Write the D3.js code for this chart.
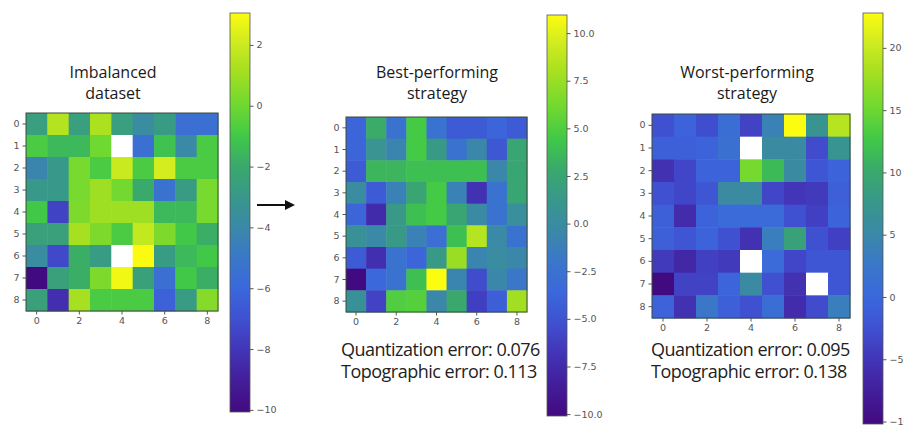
<!DOCTYPE html>
<html lang="en">
<head>
<meta charset="utf-8">
<title>SOM heatmaps</title>
<script src="https://d3js.org/d3.v7.min.js"></script>
<style>
body { margin:0; background:#fff; }
svg { display:block; }
.tick text { font-family:"DejaVu Sans", sans-serif; font-size:9.5px; fill:#555; }
.tick line { stroke:#555; }
.title { font-family:"Open Sans", sans-serif; font-size:16px; fill:#1a1a1a; }
.err { font-family:"Open Sans", sans-serif; font-size:18px; letter-spacing:-0.5px; fill:#222; }
</style>
</head>
<body>
<script>

// cell values (null = empty / white cell)
var imbalanced = [
  [-2.6, 1.5, -2.6, 1.3, -2.6, -3.8, -2.8, -5.5, -5.5],
  [-0.8, -1.5, -1.5, 0.0, null, -5.5, -1.2, -4.0, -0.8],
  [-4.2, -3.0, 0.2, -0.8, 2.0, -0.8, 2.2, -0.8, -0.8],
  [-3.0, -3.0, 0.2, 1.0, 0.1, -2.0, -5.3, -2.8, 0.2],
  [-1.0, -7.5, 0.3, 1.0, 1.0, 1.0, -1.5, -1.5, 0.2],
  [-2.5, -2.5, 1.2, 0.3, -0.8, 1.8, 0.3, -1.0, -1.8],
  [-3.8, -7.3, -1.8, -2.8, null, 3.0, -2.8, -1.5, -1.0],
  [-10.07, -2.5, -1.8, 0.3, 2.8, -2.5, -5.5, -1.0, -1.8],
  [-2.5, -8.3, 1.2, -0.8, -0.8, -0.8, -6.3, -2.8, 0.5]
];
var bestStrategy = [
  [-3.8, 3.0, -2.5, 4.6, -2.5, -4.5, -4.5, -3.8, -4.5],
  [-3.8, 0.8, -0.8, 4.6, 1.5, -2.5, -0.5, -4.8, 2.5],
  [-4.5, 3.5, 3.5, 4.0, 4.0, 4.0, 4.0, -0.5, 2.5],
  [0.0, -4.5, -1.0, 2.5, 4.6, -1.0, -7.0, -2.5, 2.5],
  [-3.8, -7.5, 1.5, 4.0, 4.6, 2.5, -0.2, -2.5, 0.3],
  [0.5, -0.3, 1.5, -1.0, -2.8, 4.0, 8.5, -0.3, -2.5],
  [-4.5, -7.2, -2.5, -3.8, 1.5, 7.5, -0.8, 0.0, -0.5],
  [-10.1, -3.5, -2.5, 4.0, 10.95, -0.8, -5.5, -0.5, -2.0],
  [0.5, -6.0, 5.0, 5.2, -0.5, 2.8, -6.2, -4.2, 7.8]
];
var worstStrategy = [
  [-2.5, -0.5, -2.8, 1.0, -3.8, 4.0, 22.8, 7.0, 19.0],
  [-1.0, -1.0, -0.5, 1.5, null, 5.5, 5.5, -3.0, 7.0],
  [-5.5, -3.5, -0.5, -0.5, 15.5, 11.5, 5.5, -2.0, -0.5],
  [-2.5, -3.5, -2.0, 5.5, 5.5, -3.5, -5.0, -4.5, -1.0],
  [-1.0, -6.0, -0.5, 0.5, 0.5, 0.5, -2.5, -4.0, -0.5],
  [-1.0, -2.0, -0.5, -2.5, -5.5, 3.5, 9.0, -2.5, -4.0],
  [-4.5, -6.5, -4.0, -4.5, null, 0.5, -3.5, -2.0, -2.0],
  [-10.2, -3.8, -3.8, -0.3, 5.5, -2.5, -5.5, null, -2.0],
  [-0.5, -5.5, 2.5, -1.0, -2.5, 1.0, -6.0, -3.0, 3.5]
];

var titles = [["Imbalanced", "dataset"], ["Best-performing", "strategy"], ["Worst-performing", "strategy"]];
var colorDomains = [[-10.07, 3.05], [-10.1, 10.95], [-10.2, 22.8]];
var colorTicks = [[2, 0, -2, -4, -6, -8, -10],
                  [10, 7.5, 5, 2.5, 0, -2.5, -5, -7.5, -10],
                  [20, 15, 10, 5, 0, -5, -10]];
var colorTickFormats = ["d", ".1f", "d"];
var errorLines = [null,
  ["Quantization error: 0.076", "Topographic error: 0.113"],
  ["Quantization error: 0.095", "Topographic error: 0.138"]];
var gridIndex = d3.range(9);
var xTickVals = [0, 2, 4, 6, 8];

// layout of each panel (pixels)
var panels = [
  {data: imbalanced,    hm: {x: 26,  y: 113, w: 192, h: 198}, cb: {x: 230, y: 13, w: 20, h: 399}, titleX: 113, errX: null},
  {data: bestStrategy,  hm: {x: 346, y: 117, w: 181, h: 195}, cb: {x: 547, y: 15, w: 20, h: 401}, titleX: 437, errX: 341},
  {data: worstStrategy, hm: {x: 652, y: 114, w: 198, h: 204}, cb: {x: 863, y: 13, w: 20, h: 411}, titleX: 747, errX: 651}
];

// saturated viridis-like colormap, as it appears in the picture
var cmapStops = [0, 0.08, 0.16, 0.23, 0.31, 0.39, 0.46, 0.54, 0.62, 0.69, 0.77, 0.86, 0.93, 1];
var cmapColors = ["#420a80", "#431e9a", "#4236b8", "#3f50d0", "#3b68dc", "#3a78c8", "#3a88a8",
                  "#38988a", "#3aaa6a", "#40c848", "#70d830", "#a8e020", "#d0ec20", "#fcfc10"];
var cmap = d3.scaleLinear().domain(cmapStops).range(cmapColors).interpolate(d3.interpolateRgb).clamp(true);

var svg = d3.select("body").append("svg")
    .attr("width", 904)
    .attr("height", 426);

var defs = svg.append("defs");

panels.forEach(function(p, k) {
  var dom = colorDomains[k];
  var norm = d3.scaleLinear().domain(dom).range([0, 1]);

  var xScale = d3.scaleBand().domain(gridIndex).range([p.hm.x, p.hm.x + p.hm.w]);
  var yScale = d3.scaleBand().domain(gridIndex).range([p.hm.y, p.hm.y + p.hm.h]);

  var cells = [];
  p.data.forEach(function(row, r) {
    row.forEach(function(v, c) { cells.push({r: r, c: c, v: v}); });
  });

  svg.append("g").selectAll("rect")
    .data(cells)
    .enter().append("rect")
    .attr("x", function(d) { return xScale(d.c); })
    .attr("y", function(d) { return yScale(d.r); })
    .attr("width", xScale.bandwidth() + 0.5)
    .attr("height", yScale.bandwidth() + 0.5)
    .attr("fill", function(d) { return d.v === null ? "#ffffff" : cmap(norm(d.v)); });

  // frame
  svg.append("rect")
    .attr("x", p.hm.x).attr("y", p.hm.y)
    .attr("width", p.hm.w).attr("height", p.hm.h)
    .attr("fill", "none").attr("stroke", "#3a4a3a").attr("stroke-width", 1);

  // axes
  var yAxis = d3.axisLeft(yScale).tickSize(3.5).tickPadding(3);
  var xAxis = d3.axisBottom(xScale).tickValues(xTickVals).tickSize(3.5).tickPadding(3);

  var yg = svg.append("g").attr("transform", "translate(" + p.hm.x + ",0)").call(yAxis);
  yg.select(".domain").remove();
  var xg = svg.append("g").attr("transform", "translate(0," + (p.hm.y + p.hm.h) + ")").call(xAxis);
  xg.select(".domain").remove();

  // colorbar
  var gid = "cbgrad" + k;
  var grad = defs.append("linearGradient").attr("id", gid)
    .attr("x1", 0).attr("y1", 1).attr("x2", 0).attr("y2", 0);
  grad.selectAll("stop")
    .data(cmapStops)
    .enter().append("stop")
    .attr("offset", function(d) { return d; })
    .attr("stop-color", function(d, i) { return cmapColors[i]; });

  svg.append("rect")
    .attr("x", p.cb.x).attr("y", p.cb.y)
    .attr("width", p.cb.w).attr("height", p.cb.h)
    .attr("fill", "url(#" + gid + ")")
    .attr("stroke", "#555").attr("stroke-width", 0.8);

  var cbScale = d3.scaleLinear().domain(dom).range([p.cb.y + p.cb.h, p.cb.y]);
  var cbAxis = d3.axisRight(cbScale).tickValues(colorTicks[k])
    .tickFormat(function(v) { return d3.format(colorTickFormats[k])(v).replace("-", "\u2212"); })
    .tickSize(3.5).tickPadding(3);
  var cg = svg.append("g").attr("transform", "translate(" + (p.cb.x + p.cb.w) + ",0)").call(cbAxis);
  cg.select(".domain").remove();

  // title
  var t = svg.append("text").attr("class", "title").attr("text-anchor", "middle");
  titles[k].forEach(function(line, i) {
    t.append("tspan").attr("x", p.titleX).attr("y", 78 + i * 21).text(line);
  });

  // error text
  if (errorLines[k]) {
    errorLines[k].forEach(function(line, i) {
      svg.append("text").attr("class", "err")
        .attr("x", p.errX).attr("y", 356 + i * 22)
        .text(line);
    });
  }
});

// arrow between first and second panel
defs.append("marker").attr("id", "head")
  .attr("viewBox", "0 0 10 10").attr("refX", 8).attr("refY", 5)
  .attr("markerWidth", 5).attr("markerHeight", 5).attr("orient", "auto")
  .append("path").attr("d", "M0,0 L10,5 L0,10 z").attr("fill", "#111");
svg.append("line")
  .attr("x1", 257).attr("y1", 205).attr("x2", 293).attr("y2", 205)
  .attr("stroke", "#111").attr("stroke-width", 2)
  .attr("marker-end", "url(#head)");

</script>
</body>
</html>
